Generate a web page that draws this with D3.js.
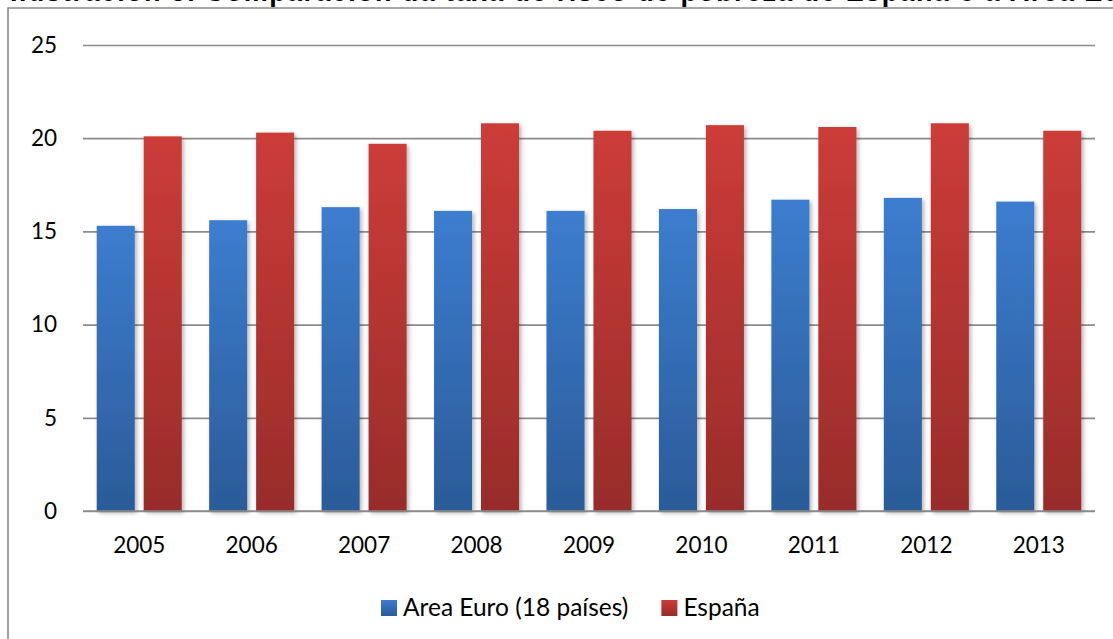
<!DOCTYPE html>
<html>
<head>
<meta charset="utf-8">
<script src="https://cdn.jsdelivr.net/npm/d3@7"></script>
<style>
  html, body { margin: 0; padding: 0; background: #fff; }
  svg { display: block; }
</style>
</head>
<body>
<div id="chart"></div>
<script>
// data
const years = ["2005", "2006", "2007", "2008", "2009", "2010", "2011", "2012", "2013"];
const euroArea = [15.3, 15.6, 16.3, 16.1, 16.1, 16.2, 16.7, 16.8, 16.6];
const spain = [20.1, 20.3, 19.7, 20.8, 20.4, 20.7, 20.6, 20.8, 20.4];
const seriesNames = ["Area Euro (18 países)", "España"];
const yTicks = [0, 5, 10, 15, 20, 25];
const title = "Ilustración 5. Comparación da taxa de risco de pobreza de España e a Área Euro";

const width = 1113;
const height = 639;
const marginLeft = 83;
const plotRight = 1095;
const plotTop = 45;
const plotBottom = 511;

const svg = d3.select("#chart").append("svg")
    .attr("width", width)
    .attr("height", height);

const defs = svg.append("defs");

// bar gradients, top to bottom
const grads = [
    {id: "gBlue", top: "#3c7dcf", bottom: "#2b5b98"},
    {id: "gRed", top: "#cc3c38", bottom: "#982c2a"}
];
grads.forEach(g => {
    const lg = defs.append("linearGradient")
        .attr("id", g.id)
        .attr("x1", 0).attr("y1", 0).attr("x2", 0).attr("y2", 1);
    lg.append("stop").attr("offset", "0%").attr("stop-color", g.top);
    lg.append("stop").attr("offset", "100%").attr("stop-color", g.bottom);
});

const shadow = defs.append("filter")
    .attr("id", "shadow")
    .attr("x", "-20%").attr("y", "-5%")
    .attr("width", "150%").attr("height", "115%");
shadow.append("feDropShadow")
    .attr("dx", 2).attr("dy", 2)
    .attr("stdDeviation", 2)
    .attr("flood-color", "#000")
    .attr("flood-opacity", 0.3);

// title, cropped at the top of the picture as in the source
svg.append("text")
    .attr("x", 10)
    .attr("y", 1)
    .attr("font-family", "'Liberation Sans', Arial, sans-serif")
    .attr("font-weight", "bold")
    .attr("font-size", 27)
    .attr("textLength", 1140)
    .attr("lengthAdjust", "spacing")
    .attr("fill", "#000")
    .text(title);

// outer frame
svg.append("path")
    .attr("d", `M8,${height + 5} V8 H${width + 5}`)
    .attr("fill", "none")
    .attr("stroke", "#8a8a8a")
    .attr("stroke-width", 1.6);

// scales
const x0 = d3.scaleBand()
    .domain(years)
    .range([marginLeft, plotRight])
    .paddingInner(0.244)
    .paddingOuter(0.122);

const x1 = d3.scaleBand()
    .domain(seriesNames)
    .range([0, x0.bandwidth()])
    .paddingInner(0.19);

const y = d3.scaleLinear()
    .domain([0, 25])
    .range([plotBottom, plotTop]);

const color = d3.scaleOrdinal()
    .domain(seriesNames)
    .range(["url(#gBlue)", "url(#gRed)"]);

const fontFamily = "Lato, 'Open Sans', sans-serif";

// gridlines
const yAxis = d3.axisLeft(y)
    .tickValues(yTicks)
    .tickSize(-(plotRight - marginLeft))
    .tickPadding(26)
    .tickFormat(d3.format("d"));

const gY = svg.append("g")
    .attr("transform", `translate(${marginLeft},0)`)
    .call(yAxis);
gY.select(".domain").remove();
gY.selectAll(".tick line")
    .attr("stroke", "#8c8c8c")
    .attr("stroke-width", 1.7);
gY.selectAll(".tick text")
    .attr("font-family", fontFamily)
    .attr("font-size", 22.5)
    .attr("fill", "#000");

// bars
const rows = years.map((yr, i) => ({year: yr, values: [euroArea[i], spain[i]]}));

const groups = svg.append("g")
    .selectAll("g")
    .data(rows)
    .join("g")
    .attr("transform", d => `translate(${x0(d.year)},0)`);

groups.selectAll("rect")
    .data(d => d.values.map((v, j) => ({name: seriesNames[j], value: v})))
    .join("rect")
    .attr("x", d => x1(d.name))
    .attr("y", d => y(d.value))
    .attr("width", x1.bandwidth())
    .attr("height", d => y(0) - y(d.value))
    .attr("fill", d => color(d.name))
    .attr("filter", "url(#shadow)");

// baseline drawn again over the bars
svg.append("line")
    .attr("x1", marginLeft)
    .attr("x2", plotRight)
    .attr("y1", y(0))
    .attr("y2", y(0))
    .attr("stroke", "#8c8c8c")
    .attr("stroke-width", 1.7);

// x axis labels
const xAxis = d3.axisBottom(x0).tickSize(0).tickPadding(26);
const gX = svg.append("g")
    .attr("transform", `translate(0,${plotBottom})`)
    .call(xAxis);
gX.select(".domain").remove();
gX.selectAll(".tick text")
    .attr("font-family", fontFamily)
    .attr("font-size", 22.5)
    .attr("fill", "#000");

// legend
const legend = svg.append("g");
const items = legend.selectAll("g")
    .data(seriesNames)
    .join("g");
items.append("rect")
    .attr("width", 16)
    .attr("height", 16)
    .attr("y", 600)
    .attr("fill", d => color(d));
items.append("text")
    .attr("x", 22)
    .attr("y", 616)
    .attr("font-family", fontFamily)
    .attr("font-size", 24.5)
    .attr("fill", "#000")
    .text(d => d);

let lx = 381;
items.each(function() {
    d3.select(this).attr("transform", `translate(${lx},0)`);
    lx += 22 + d3.select(this).select("text").node().getComputedTextLength() + 33;
});
</script>
</body>
</html>
